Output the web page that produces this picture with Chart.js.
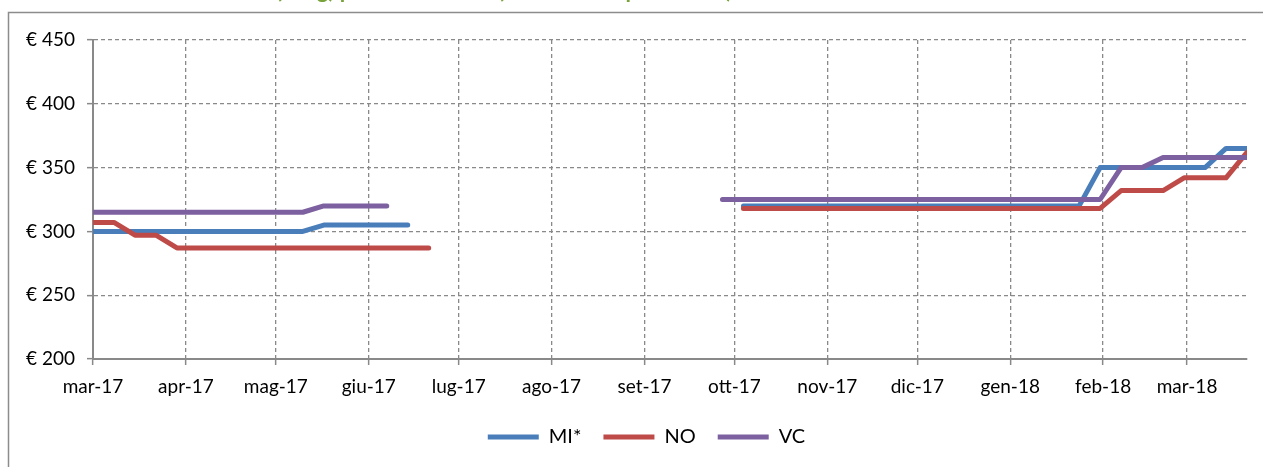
<!DOCTYPE html>
<html>
<head>
<meta charset="utf-8">
<script src="https://cdn.jsdelivr.net/npm/chart.js@4.4.0/dist/chart.umd.min.js"></script>
<style>
  html, body { margin: 0; padding: 0; background: #fff; }
  #wrap { position: relative; width: 1263px; height: 467px; }
</style>
</head>
<body>
<div id="wrap"><canvas id="priceChart"></canvas></div>
<script>
// ── data ─────────────────────────────────────────────────────────────────────
// Weekly quotes; x = days since the first quote (2 Mar 2017).
const weekDays = [
    0,   7,  14,  21,  28,  35,  42,  49,  56,  63,
   70,  77,  84,  91,  98, 105, 112, 119, 126, 133,
  140, 147, 154, 161, 168, 175, 182, 189, 196, 203,
  210, 217, 224, 231, 238, 245, 252, 259, 266, 273,
  280, 287, 294, 301, 308, 315, 322, 329, 336, 343,
  350, 357, 364, 371, 378, 385,
];

// Month ticks of the date axis (days from first quote) and their labels
const monthTicks  = [0, 31, 61, 92, 122, 153, 184, 214, 245, 275, 306, 337, 365];
const monthLabels = ['mar-17', 'apr-17', 'mag-17', 'giu-17', 'lug-17', 'ago-17', 'set-17',
                     'ott-17', 'nov-17', 'dic-17', 'gen-18', 'feb-18', 'mar-18'];

const seriesNames = ['MI*', 'NO', 'VC'];

const priceMI = [
  300, 300, 300, 300, 300, 300, 300, 300, 300, 300,
  300, 305, 305, 305, 305, 305, null, null, null, null,
  null, null, null, null, null, null, null, null, null, null,
  null, 320, 320, 320, 320, 320, 320, 320, 320, 320,
  320, 320, 320, 320, 320, 320, 320, 320, 350, 350,
  350, 350, 350, 350, 365, 365,
];
const priceNO = [
  307, 307, 297, 297, 287, 287, 287, 287, 287, 287,
  287, 287, 287, 287, 287, 287, 287, null, null, null,
  null, null, null, null, null, null, null, null, null, null,
  null, 318, 318, 318, 318, 318, 318, 318, 318, 318,
  318, 318, 318, 318, 318, 318, 318, 318, 318, 332,
  332, 332, 342, 342, 342, 362,
];
const priceVC = [
  315, 315, 315, 315, 315, 315, 315, 315, 315, 315,
  315, 320, 320, 320, 320, null, null, null, null, null,
  null, null, null, null, null, null, null, null, null, null,
  325, 325, 325, 325, 325, 325, 325, 325, 325, 325,
  325, 325, 325, 325, 325, 325, 325, 325, 325, 350,
  350, 358, 358, 358, 358, 358,
];

const yTicks = { min: 200, max: 450, step: 50 };

// ── styles ───────────────────────────────────────────────────────────────────
const COLORS    = ['#4a7ebb', '#be4b48', '#7d60a0'];
const AXIS_GREY = '#898989';
const FONT      = 'Lato, "Open Sans", sans-serif';
const TITLE     = 'Prezzi medi settimanali (€/kg) pezzatura unica (Borse merci provinciali)';

function toPoints(values) {
  return weekDays.map((d, i) => ({ x: d, y: values[i] }));
}

// Outer frame + (cropped) title; legend nudged to the original's centre
const framePlugin = {
  id: 'frame',
  afterLayout(chart) {
    chart.legend.left  += 23;
    chart.legend.right += 23;
  },
  beforeDraw(chart) {
    const ctx = chart.ctx;
    ctx.save();
    ctx.fillStyle = '#fff';
    ctx.fillRect(0, 0, chart.width, chart.height);
    ctx.strokeStyle = '#8c8c8c';
    ctx.lineWidth = 1.5;
    ctx.strokeRect(8.5, 12.5, chart.width + 20, chart.height + 20);

    // only the descenders of the title are inside the picture
    ctx.font = 'bold 22px ' + FONT;
    ctx.fillStyle = '#77a33a';
    ctx.textBaseline = 'alphabetic';
    ctx.textAlign = 'left';
    const pre = TITLE.slice(0, TITLE.indexOf('('));
    ctx.fillText(TITLE, 276 - ctx.measureText(pre).width, -2);
    ctx.restore();
  },
};

const gridOpts = {
  color: AXIS_GREY,
  lineWidth: 1.3,
  tickLength: 6,
  tickColor: AXIS_GREY,
  tickWidth: 1.5,
  tickBorderDash: [],
};

new Chart(document.getElementById('priceChart'), {
  type: 'line',
  data: {
    datasets: [priceMI, priceNO, priceVC].map((vals, i) => ({
      label: seriesNames[i],
      data: toPoints(vals),
      borderColor: COLORS[i],
      backgroundColor: COLORS[i],
      borderWidth: 5,
      borderCapStyle: 'round',
      borderJoinStyle: 'round',
      pointRadius: 0,
      tension: 0,
      spanGaps: false,
      order: 2 - i,          // VC on top, as in the original
    })),
  },
  options: {
    responsive: true,
    maintainAspectRatio: false,
    animation: false,
    events: [],
    layout: { padding: { top: 40, right: 16, left: 0, bottom: 10 } },
    plugins: {
      legend: {
        position: 'bottom',
        labels: {
          usePointStyle: true,
          pointStyle: 'line',
          pointStyleWidth: 51,
          padding: 22,
          color: '#000',
          font: { family: FONT, size: 20 },
          sort: (a, b) => a.datasetIndex - b.datasetIndex,
        },
      },
      tooltip: { enabled: false },
    },
    scales: {
      x: {
        type: 'linear',
        min: monthTicks[0],
        max: weekDays[weekDays.length - 1],
        afterBuildTicks: s => { s.ticks = monthTicks.map(v => ({ value: v })); },
        afterFit: s => { s.height = 46; },
        ticks: {
          autoSkip: false,
          maxRotation: 0,
          padding: 10,
          color: '#000',
          font: { family: FONT, size: 19 },
          callback: (v, i) => monthLabels[i],
        },
        grid: gridOpts,
        border: { color: AXIS_GREY, width: 2, dash: [4, 3] },
      },
      y: {
        min: yTicks.min,
        max: yTicks.max,
        afterFit: s => { s.width = 93; },
        ticks: {
          stepSize: yTicks.step,
          padding: 12,
          color: '#000',
          font: { family: FONT, size: 19 },
          callback: v => '€ ' + v,
        },
        grid: gridOpts,
        border: { color: AXIS_GREY, width: 2, dash: [4, 3] },
      },
    },
  },
  plugins: [framePlugin],
});
</script>
</body>
</html>
